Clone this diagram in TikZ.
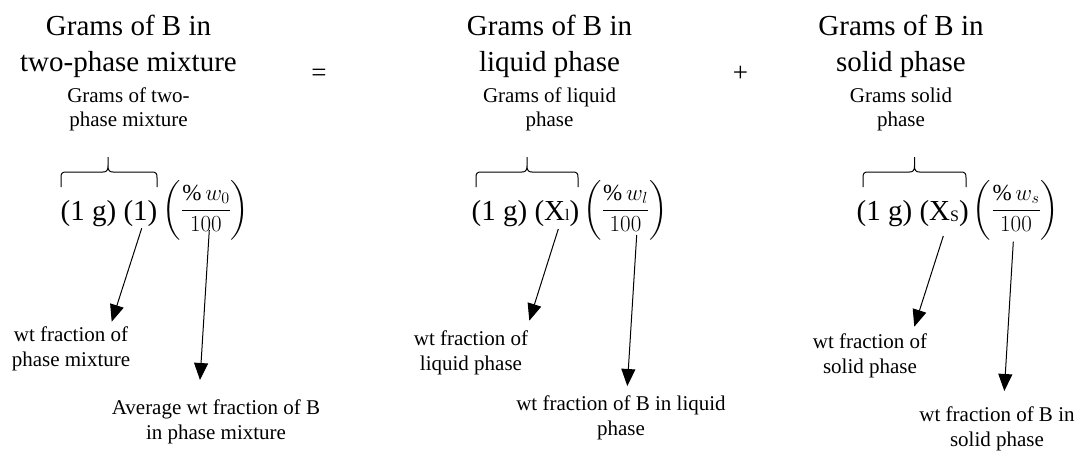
\documentclass[tikz,border=0pt]{standalone}
\usepackage{fix-cm}
\usepackage{amsmath}
\usepackage{fontspec}
\setmainfont{Liberation Serif}
\usetikzlibrary{arrows.meta}
\newcommand\lowsub[2]{\raisebox{#2}{\fontsize{16}{16}\selectfont #1}}
\newcommand\mybrace[3]{%
  \draw[brc] (#1,187) -- (#1,177.5) .. controls (#1,173.5) and (#1+1,172) .. (#1+5,172)
    -- (#3-5,172) .. controls (#3-1.5,172) and (#3,170.5) .. (#3,166) -- (#3,157)
    (#3,166) .. controls (#3,170.5) and (#3+1.5,172) .. (#3+5,172)
    -- (#2-5,172) .. controls (#2-1,172) and (#2,173.5) .. (#2,177.5) -- (#2,187);}
\tikzset{
  head/.style={font=\fontsize{29}{36}\selectfont, align=center, inner sep=0pt},
  subh/.style={font=\fontsize{21}{24.5}\selectfont, align=center, inner sep=0pt},
  lab/.style={font=\fontsize{21}{25}\selectfont, align=center, inner sep=0pt},
  term/.style={font=\fontsize{29}{34}\selectfont, inner sep=0pt},
  fracn/.style={font=\fontsize{23}{26}\selectfont, inner sep=0pt},
  op/.style={font=\fontsize{27}{30}\selectfont, inner sep=0pt},
  arr/.style={line width=1pt, -{Triangle[width=14pt,length=17pt]}},
  brc/.style={line width=1pt},
}
\begin{document}
\begin{tikzpicture}[x=1pt,y=-1pt]
\useasboundingbox (0,0) rectangle (1079,450);
% headings (base = baseline of last line)
\node[head,anchor=base] (h1) at (128.5,71.7) {Grams of B in\\two-phase mixture};
\node[head,anchor=base] (h2) at (549.5,71.7) {Grams of B in\\liquid phase};
\node[head,anchor=base] (h3) at (901,71.7) {Grams of B in\\solid phase};
\node[op] (eq) at (319,75) {=};
\node[op] (plus) at (740.5,74) {+};
% sub headings
\node[subh,anchor=base] (g1) at (128.5,126.5) {Grams of two-\\phase mixture};
\node[subh,anchor=base] (g2) at (549.5,126.5) {Grams of liquid\\phase};
\node[subh,anchor=base] (g3) at (901,126.5) {Grams solid\\phase};
% braces
\mybrace{61}{157}{108}
\mybrace{476}{578}{527}
\mybrace{863}{966}{914.5}
% terms
\node[term,anchor=base] (t1) at (109,220) {(1 g) (1)};
\node[term,anchor=base] (t2) at (525.5,220) {(1 g) (X\lowsub{l}{0pt})};
\node[term,anchor=base] (t3) at (912.7,220) {(1 g) (X\lowsub{S}{-1.5pt})};
\node[fracn] (f1) at (206,210) {$\left(\dfrac{\%\,w_0}{100}\right)$};
\node[fracn] (f2) at (625.5,210) {$\left(\dfrac{\%\,w_l}{100}\right)$};
\node[fracn] (f3) at (1016,210) {$\left(\dfrac{\%\,w_s}{100}\right)$};
% labels
\node[lab,anchor=base] (l1a) at (71,366) {wt fraction of\\phase mixture};
\node[lab,anchor=base] (l1b) at (216,439.5) {Average wt fraction of B\\in phase mixture};
\node[lab,anchor=base] (l2a) at (471,370) {wt fraction of\\liquid phase};
\node[lab,anchor=base] (l2b) at (621,435) {wt fraction of B in liquid\\phase};
\node[lab,anchor=base] (l3a) at (870,373.5) {wt fraction of\\solid phase};
\node[lab,anchor=base] (l3b) at (997,446.7) {wt fraction of B in\\solid phase};
% arrow end points
\coordinate (s1) at (141.7,228.3); \coordinate (e1) at (111.7,321.7);
\coordinate (s2) at (209.3,230);   \coordinate (e2) at (200,380);
\coordinate (s3) at (558.3,229);   \coordinate (e3) at (529.3,320.7);
\coordinate (s4) at (636.7,235);   \coordinate (e4) at (627.3,386);
\coordinate (s5) at (943.3,236);   \coordinate (e5) at (914.3,326.7);
\coordinate (s6) at (1013.3,241.7);\coordinate (e6) at (1004.3,391);
\draw[arr] (s1) -- (e1);
\draw[arr] (s2) -- (e2);
\draw[arr] (s3) -- (e3);
\draw[arr] (s4) -- (e4);
\draw[arr] (s5) -- (e5);
\draw[arr] (s6) -- (e6);
\end{tikzpicture}
\end{document}
